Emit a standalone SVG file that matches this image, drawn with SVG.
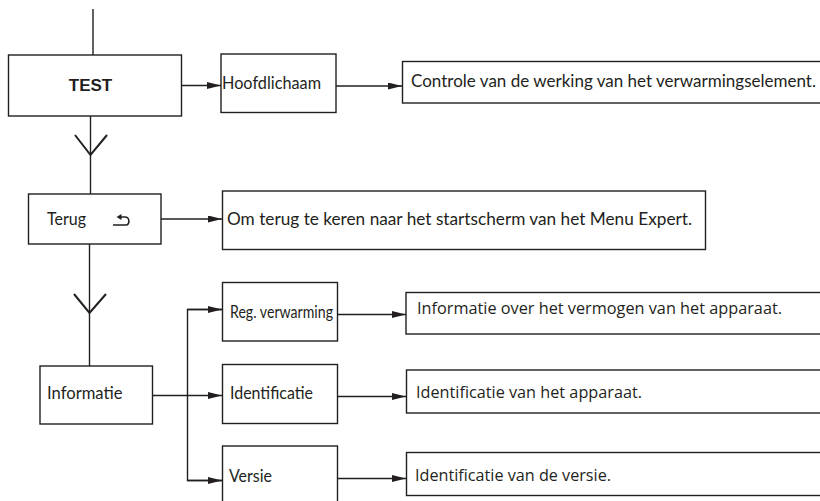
<svg xmlns="http://www.w3.org/2000/svg" width="820" height="501" viewBox="0 0 820 501">
<defs>
<marker id="ah" markerWidth="14" markerHeight="7" refX="14" refY="3.5" orient="auto" markerUnits="userSpaceOnUse">
<path d="M0,0 L14,3.5 L0,7 z" fill="#231f20"/>
</marker>
<style>
.box{fill:#fff;stroke:#231f20;stroke-width:1.4}
.ln{fill:none;stroke:#231f20;stroke-width:1.4}
.ar{fill:none;stroke:#231f20;stroke-width:1.4;marker-end:url(#ah)}
.g{font-family:Lato,"Open Sans","Liberation Sans",sans-serif;font-size:16.5px;fill:#231f20}
.m{font-family:"Open Sans","Noto Sans","Liberation Sans",sans-serif;font-size:15.5px;fill:#231f20}
.b{font-family:"Liberation Sans",Arial,sans-serif;font-size:17px;font-weight:bold;fill:#231f20}
</style>
</defs>
<rect width="820" height="501" fill="#fff"/>
<g id="connectors">
<line class="ln" x1="93" y1="9" x2="93" y2="55"/>
<line class="ar" x1="182" y1="85.5" x2="221" y2="85.5"/>
<line class="ar" x1="336" y1="86" x2="402" y2="86"/>
<line class="ln" x1="90.5" y1="116" x2="90.5" y2="194"/>
<polyline class="ln" points="75,135 90.5,155 107,135" style="stroke-width:2"/>
<line class="ar" x1="161" y1="219" x2="222" y2="219"/>
<line class="ln" x1="89.5" y1="244" x2="89.5" y2="366"/>
<polyline class="ln" points="74,294 89.5,313 106,294" style="stroke-width:2"/>
<line class="ar" x1="152.5" y1="395.5" x2="222" y2="395.5"/>
<polyline class="ln" points="222,309.5 187.5,309.5 187.5,480.5 222,480.5"/>
<line class="ar" x1="187.5" y1="309.5" x2="222" y2="309.5"/>
<line class="ar" x1="187.5" y1="480.5" x2="222" y2="480.5"/>
<line class="ar" x1="337.5" y1="314.5" x2="406" y2="314.5"/>
<line class="ar" x1="337.5" y1="396.5" x2="406" y2="396.5"/>
<line class="ar" x1="337.5" y1="478.5" x2="406" y2="478.5"/>
</g>
<g id="test">
<rect class="box" x="8.5" y="55" width="173" height="61"/>
<text class="b" x="90.5" y="91" text-anchor="middle">TEST</text>
</g>
<g id="hoofdlichaam">
<rect class="box" x="221" y="54" width="115" height="58.5"/>
<text class="g" x="222" y="89" textLength="99" lengthAdjust="spacingAndGlyphs">Hoofdlichaam</text>
</g>
<g id="controle">
<rect class="box" x="402.5" y="61.5" width="430" height="41.5"/>
<text class="g" x="411" y="87" textLength="405" lengthAdjust="spacingAndGlyphs">Controle van de werking van het verwarmingselement.</text>
</g>
<g id="terug">
<rect class="box" x="28.5" y="194" width="132.5" height="50"/>
<text class="g" x="47" y="225" textLength="39" lengthAdjust="spacingAndGlyphs">Terug</text>
<path class="ln" d="M113,225 H126 C130,225 130,217 125,217 H119" style="stroke-width:1.6"/>
<path d="M116.5,217 L121.5,214 L121.5,220 z" fill="#231f20"/>
</g>
<g id="terug-info">
<rect class="box" x="222.5" y="191" width="483" height="58.5"/>
<text class="g" x="227" y="225" textLength="465" lengthAdjust="spacingAndGlyphs">Om terug te keren naar het startscherm van het Menu Expert.</text>
</g>
<g id="informatie">
<rect class="box" x="40" y="366" width="112.5" height="58"/>
<text class="g" x="47" y="399" textLength="75.5" lengthAdjust="spacingAndGlyphs">Informatie</text>
</g>
<g id="reg-verwarming">
<rect class="box" x="222.5" y="282.5" width="115" height="58.5"/>
<text class="g" x="230" y="318" textLength="103" lengthAdjust="spacingAndGlyphs">Reg. verwarming</text>
</g>
<g id="identificatie">
<rect class="box" x="222.5" y="364.5" width="115" height="59"/>
<text class="g" x="230" y="399" textLength="83" lengthAdjust="spacingAndGlyphs">Identificatie</text>
</g>
<g id="versie">
<rect class="box" x="222.5" y="446" width="115" height="60"/>
<text class="g" x="229" y="481.5" textLength="43" lengthAdjust="spacingAndGlyphs">Versie</text>
</g>
<g id="info-vermogen">
<rect class="box" x="406" y="292.5" width="430" height="41.5"/>
<text class="m" x="417" y="314" textLength="365" lengthAdjust="spacingAndGlyphs">Informatie over het vermogen van het apparaat.</text>
</g>
<g id="info-identificatie">
<rect class="box" x="406.5" y="370" width="430" height="43"/>
<text class="m" x="416" y="398" textLength="226" lengthAdjust="spacingAndGlyphs">Identificatie van het apparaat.</text>
</g>
<g id="info-versie">
<rect class="box" x="406.5" y="452.5" width="430" height="43"/>
<text class="m" x="415" y="480.5" textLength="196" lengthAdjust="spacingAndGlyphs">Identificatie van de versie.</text>
</g>
</svg>
